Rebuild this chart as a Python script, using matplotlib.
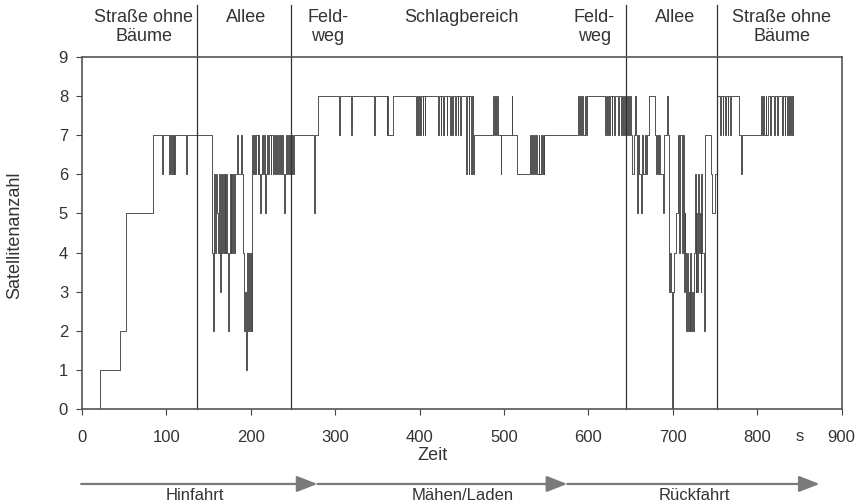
import matplotlib
matplotlib.use("Agg")
import matplotlib.pyplot as plt
from matplotlib.patches import ArrowStyle
from matplotlib.transforms import blended_transform_factory

plt.rcParams['font.family'] = ['Liberation Sans', 'DejaVu Sans']

# Satellite count change points (time in s, number of satellites), per route section
strasse_hin = [(0, 0), (21, 1), (45, 2), (52, 5), (84, 7), (95, 6), (96, 7), (103, 6), (104, 7),
               (105.5, 6), (106.5, 7), (107.5, 6), (108.5, 7), (109.5, 6), (110.5, 7), (123, 6), (124, 7)]

allee_hin = [(154, 4), (155, 2), (156, 4), (157, 6), (158, 4), (159, 6), (160, 5), (161, 4), (162, 6),
             (163, 4), (164, 3), (165, 6), (166, 4), (167, 6), (168, 4), (169, 6), (170, 4), (171, 6),
             (172, 4), (173, 2), (174, 4), (175, 6), (176, 4), (177, 6), (178, 4), (179, 6), (180, 4),
             (181, 6), (184, 7), (185, 6), (189, 7), (190, 6), (191, 4), (192, 2), (193, 3), (194, 1),
             (195, 2), (196, 4), (197, 2), (198, 4), (199, 2), (200, 4), (201, 2), (202, 7),
             (203, 6), (204, 7), (205.5, 6), (206.5, 7), (208, 6), (209, 7), (210, 6), (211, 5), (212, 6),
             (213, 7), (215, 6), (216, 7), (217, 5), (218, 6), (219, 7), (221, 6), (222, 7), (223.5, 6),
             (224.5, 7), (226, 6), (227, 7), (228.5, 6), (229.5, 7), (231, 6), (232, 7), (233.5, 6),
             (234.5, 7), (236, 6), (237, 7), (238.5, 6), (239.5, 5), (240.5, 6), (241.5, 7), (243, 6),
             (244, 7), (245.5, 6), (246.5, 7), (248, 6), (249, 7), (250.5, 6), (251.5, 7)]

feldweg_hin = [(252, 7), (275, 5), (276, 7), (280, 8)]

schlag = [(305, 7), (306, 8), (319, 7), (320, 8), (346, 7), (347, 8), (361, 7), (362, 8), (363, 7),
          (369, 8), (396, 7), (397, 8), (398.5, 7), (399.5, 8), (401, 7), (402, 8), (403.5, 7),
          (404.5, 8), (406, 7), (407, 8), (422, 7), (423, 8), (425, 7), (426, 8), (428, 7), (429, 8),
          (432, 7), (433, 8), (436, 7), (437, 8), (439, 7), (440, 8), (442, 7), (443, 8), (445, 7),
          (446, 8), (448, 7), (449, 8), (455, 6), (456, 8), (458, 6), (459, 8), (461, 6), (462, 8),
          (463, 6), (464, 7), (487, 8), (488, 7), (489.5, 8), (490.5, 7), (492, 8), (493, 7), (496, 6),
          (497, 7), (509, 8), (510, 7), (515, 6), (531, 7), (532, 6), (533.5, 7), (534.5, 6),
          (536, 7), (537, 6), (538.5, 7), (539.5, 6), (541, 7), (542, 6), (543.5, 7), (544.5, 6),
          (546, 7), (547, 6), (548, 7), (588, 8), (589, 7), (590.5, 8), (591.5, 7), (593, 8),
          (594, 7), (596, 8), (597, 7), (598, 8)]

feldweg_rueck = [(620, 7), (621, 8), (622.5, 7), (623.5, 8), (625, 7), (626, 8), (627.5, 7),
                 (628.5, 8), (630, 7), (631, 8), (635, 7), (636, 8), (639, 7), (640, 8), (641.5, 7),
                 (642.5, 8), (644, 7), (645, 8)]

allee_rueck = [(646, 7), (647, 8), (648.5, 7), (649.5, 8), (651, 7), (652, 6), (654, 7), (655, 8),
               (656, 7), (658, 5), (659, 7), (660, 6), (662, 5), (663, 6), (664, 7), (665, 6), (667, 7),
               (668, 6), (670, 7), (672, 8), (679, 7), (680, 6), (681, 7), (682.5, 6), (683.5, 7),
               (684.5, 6), (688, 5), (690, 7), (693, 8), (694, 7), (695, 4), (696, 3), (697, 4),
               (698, 3), (699, 0), (700, 3), (702, 4), (704, 5), (706, 7), (707, 4), (709, 7), (711, 4),
               (712, 7), (713, 3), (714, 5), (715, 4), (716, 2), (717, 4), (718, 2), (719, 3), (720, 2),
               (721, 4), (722, 2), (723, 3), (724, 2), (725, 4), (726, 6), (727, 3), (728, 5), (729, 3),
               (730, 6), (731, 4), (732, 5), (733, 3), (734, 6), (735, 4), (737, 2), (738, 7), (745, 6),
               (747, 5), (750, 6), (752, 8)]

strasse_rueck = [(756, 7), (757, 8), (759, 7), (760, 8), (762, 7), (763, 8), (765, 7), (766, 8),
                 (768, 7), (769, 8), (778, 7), (781, 6), (782, 7), (805, 8), (806, 7), (807, 8),
                 (808, 7), (810, 8), (811, 7), (813, 8), (815, 7), (816, 8), (820, 7), (821, 8),
                 (824, 7), (825, 8), (830, 7), (831, 8), (832.5, 7), (833.5, 8), (835, 7), (836, 8),
                 (837.5, 7), (838.5, 8), (840, 7), (841, 8), (842, 7), (843, 7)]

# Section boundaries and headings
grenzen = [136, 248, 645, 753]
abschnitte = ["Straße ohne\nBäume", "Allee", "Feld-\nweg", "Schlagbereich", "Feld-\nweg", "Allee",
              "Straße ohne\nBäume"]
abschnitt_mitte = [73, 194, 291, 450, 607, 703, 829]

# Trip phases
phasen = ["Hinfahrt", "Mähen/Laden", "Rückfahrt"]
phasen_grenzen = [-1, 279, 575, 874]
phasen_mitte = [134, 451, 726]

x_ticks = [0, 100, 200, 300, 400, 500, 600, 700, 800, 900]
y_ticks = [0, 1, 2, 3, 4, 5, 6, 7, 8, 9]

verlauf = strasse_hin + allee_hin + feldweg_hin + schlag + feldweg_rueck + allee_rueck + strasse_rueck
zeit = [p[0] for p in verlauf]
anzahl = [p[1] for p in verlauf]

textfarbe = '#333333'
fig = plt.figure(figsize=(8.61, 5.03), dpi=100)
ax = fig.add_axes([0.0952, 0.1869, 0.8822, 0.6998])

ax.plot(zeit, anzahl, drawstyle='steps-post', color='#454545', lw=0.65)

ax.set_xlim(0, 900)
ax.set_ylim(0, 9)
ax.set_xticks(x_ticks)
ax.set_yticks(y_ticks)
ax.tick_params(axis='x', direction='out', length=4, pad=11, labelsize=12, colors='#444444',
               labelcolor=textfarbe)
ax.tick_params(axis='y', direction='out', length=4, pad=6, labelsize=12, colors='#444444',
               labelcolor=textfarbe)
for s in ax.spines.values():
    s.set_color('#555555')
    s.set_linewidth(1.2)

trans = blended_transform_factory(ax.transData, ax.transAxes)

# section separators reaching up into the heading row
for g in grenzen:
    ax.plot([g, g], [0, 1.148], transform=trans, clip_on=False, color='#333333', lw=0.9)

for name, mx in zip(abschnitte, abschnitt_mitte):
    ax.text(mx, 1.135, name, transform=trans, ha='center', va='top', fontsize=13,
            linespacing=1.12, color=textfarbe)

# unit label between the last two tick labels
ax.text(850, -0.077, "s", transform=trans, ha='center', va='center', fontsize=12, color=textfarbe)

fig.text(15 / 861, 0.533, "Satellitenanzahl", rotation=90, ha='center', va='center',
         fontsize=13, color=textfarbe)
fig.text(432 / 861, 1 - 455 / 503, "Zeit", ha='center', va='center', fontsize=13, color=textfarbe)

# phase arrows below the time axis
pfeil = ArrowStyle('-|>', head_length=0.9, head_width=0.35)
for a, b in zip(phasen_grenzen[:-1], phasen_grenzen[1:]):
    ax.annotate('', xy=(b, -0.213), xytext=(a, -0.213), xycoords=trans, textcoords=trans,
                annotation_clip=False,
                arrowprops=dict(arrowstyle=pfeil, color='#7a7a7a', lw=1.6, mutation_scale=14,
                                shrinkA=0, shrinkB=0))
for name, mx in zip(phasen, phasen_mitte):
    ax.text(mx, -0.246, name, transform=trans, ha='center', va='center', fontsize=12,
            color=textfarbe)

fig.savefig("out.png", dpi=100)
